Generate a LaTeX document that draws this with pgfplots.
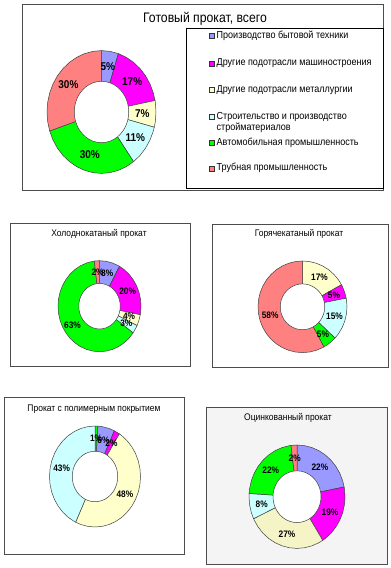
\documentclass[border=0pt]{standalone}
\usepackage{fontspec}
\setmainfont{Liberation Sans}
\usepackage{pgfplots}
\usepackage{pgfplotstable}
\pgfplotsset{compat=1.18}

\definecolor{cBlue}{HTML}{9999FF}
\definecolor{cMag}{HTML}{FF00FF}
\definecolor{cYel}{HTML}{FFFFCC}
\definecolor{cYelZ}{HTML}{F4F4C6}
\definecolor{cCyan}{HTML}{CCFFFF}
\definecolor{cGreen}{HTML}{00FF00}
\definecolor{cRed}{HTML}{FF8080}
\definecolor{cBack}{HTML}{F4F4F4}

\pgfplotsset{
  /pgfplots/table/donut/.style={row sep=\\,
    x expr={\thisrow{r}*cos(90-3.6*\thisrow{p})},
    y expr={\thisrow{r}*sin(90-3.6*\thisrow{p})}},
  sector/.style={draw=black!75, line width=0.5pt, line join=round},
  donutaxis/.style={hide axis, scale only axis, xmin=-1, xmax=1, ymin=-1, ymax=1,
    clip=false, anchor=center},
  lab/.style={draw=none, nodes near coords={\pgfplotspointmeta\%},
    point meta=explicit symbolic,
    every node near coord/.append style={anchor=center, inner sep=0pt, xscale=0.885, font=#1}},
}

% inner hole (50% of the outer radius)
\pgfplotstableread[row sep=\\]{p r\\
0 0.5\\2.5 0.5\\5 0.5\\7.5 0.5\\10 0.5\\12.5 0.5\\15 0.5\\17.5 0.5\\20 0.5\\22.5 0.5\\
25 0.5\\27.5 0.5\\30 0.5\\32.5 0.5\\35 0.5\\37.5 0.5\\40 0.5\\42.5 0.5\\45 0.5\\47.5 0.5\\
50 0.5\\52.5 0.5\\55 0.5\\57.5 0.5\\60 0.5\\62.5 0.5\\65 0.5\\67.5 0.5\\70 0.5\\72.5 0.5\\
75 0.5\\77.5 0.5\\80 0.5\\82.5 0.5\\85 0.5\\87.5 0.5\\90 0.5\\92.5 0.5\\95 0.5\\97.5 0.5\\100 0.5\\}\holetab

\newcommand{\ttl}[1]{\fontsize{#1}{#1}\selectfont}

\begin{document}
\begin{tikzpicture}
\useasboundingbox (0pt,0pt) rectangle (391pt,568pt);

% frames
\draw[black!70, line width=0.6pt] (22pt,378pt) rectangle (383pt,564pt);
\draw[black!70, line width=0.6pt] (10pt,202pt) rectangle (190pt,345pt);
\draw[black!70, line width=0.6pt] (212pt,201pt) rectangle (388pt,344pt);
\draw[black!70, line width=0.6pt] (4pt,14pt) rectangle (184pt,171pt);
\draw[black!70, line width=0.6pt, fill=cBack] (206pt,4pt) rectangle (387pt,161pt);

% titles
\node[xscale=0.885] at (205pt,548.7pt) {\ttl{13.8}Готовый прокат, всего};
\node[xscale=0.885] at (99pt,334pt) {\ttl{9.6}Холоднокатаный прокат};
\node[xscale=0.885] at (299pt,334pt) {\ttl{9.6}Горячекатаный прокат};
\node[xscale=0.885] at (94pt,159pt) {\ttl{9.6}Прокат с полимерным покрытием};
\node[xscale=0.885] at (288pt,150pt) {\ttl{9.6}Оцинкованный прокат};

% ---------------- Готовый прокат, всего
\begin{axis}[donutaxis, at={(101.5pt,456pt)}, width=109pt, height=122.8pt]
\addplot[sector, fill=cBlue] table[donut] {p r\\0 0\\0 1\\2.5 1\\5 1\\5 0\\};
\addplot[sector, fill=cMag] table[donut] {p r\\5 0\\5 1\\7.5 1\\10 1\\12.5 1\\15 1\\17.5 1\\20 1\\22 1\\22 0\\};
\addplot[sector, fill=cYel] table[donut] {p r\\22 0\\22 1\\22.5 1\\25 1\\27.5 1\\29 1\\29 0\\};
\addplot[sector, fill=cCyan] table[donut] {p r\\29 0\\29 1\\30 1\\32.5 1\\35 1\\37.5 1\\40 1\\40 0\\};
\addplot[sector, fill=cGreen] table[donut] {p r\\40 0\\40 1\\42.5 1\\45 1\\47.5 1\\50 1\\52.5 1\\55 1\\57.5 1\\60 1\\62.5 1\\65 1\\67.5 1\\70 1\\70 0\\};
\addplot[sector, fill=cRed] table[donut] {p r\\70 0\\70 1\\72.5 1\\75 1\\77.5 1\\80 1\\82.5 1\\85 1\\87.5 1\\90 1\\92.5 1\\95 1\\97.5 1\\100 1\\100 0\\};
\addplot[sector, fill=white] table[donut] {\holetab};
\addplot[lab={\bfseries\ttl{11.3}}] table[donut, meta=v] {p r v\\2.5 0.75 5\\13.5 0.75 17\\25.5 0.75 7\\34.5 0.75 11\\54.8 0.72 30\\85 0.75 30\\};
\end{axis}

% ---------------- Холоднокатаный прокат
\begin{axis}[donutaxis, at={(99.5pt,261.8pt)}, width=83pt, height=91pt]
\addplot[sector, fill=cBlue] table[donut] {p r\\0 0\\0 1\\2.5 1\\5 1\\7.5 1\\8 1\\8 0\\};
\addplot[sector, fill=cMag] table[donut] {p r\\8 0\\8 1\\10 1\\12.5 1\\15 1\\17.5 1\\20 1\\22.5 1\\25 1\\27.5 1\\28 1\\28 0\\};
\addplot[sector, fill=cYel] table[donut] {p r\\28 0\\28 1\\30 1\\32 1\\32 0\\};
\addplot[sector, fill=cCyan] table[donut] {p r\\32 0\\32 1\\32.5 1\\35 1\\35 0\\};
\addplot[sector, fill=cGreen] table[donut] {p r\\35 0\\35 1\\37.5 1\\40 1\\42.5 1\\45 1\\47.5 1\\50 1\\52.5 1\\55 1\\57.5 1\\60 1\\62.5 1\\65 1\\67.5 1\\70 1\\72.5 1\\75 1\\77.5 1\\80 1\\82.5 1\\85 1\\87.5 1\\90 1\\92.5 1\\95 1\\97.5 1\\98 1\\98 0\\};
\addplot[sector, fill=cRed] table[donut] {p r\\98 0\\98 1\\100 1\\100 0\\};
\addplot[sector, fill=white] table[donut] {\holetab};
\addplot[lab={\bfseries\ttl{9.4}}] table[donut, meta=v] {p r v\\4 0.75 8\\18 0.75 20\\30 0.75 4\\33.5 0.75 3\\66 0.77 63\\99 0.75 2\\};
\end{axis}

% ---------------- Горячекатаный прокат
\begin{axis}[donutaxis, at={(302.5pt,261.2pt)}, width=89pt, height=91.6pt]
\addplot[sector, fill=cYel] table[donut] {p r\\0 0\\0 1\\2.5 1\\5 1\\7.5 1\\10 1\\12.5 1\\15 1\\17 1\\17 0\\};
\addplot[sector, fill=cMag] table[donut] {p r\\17 0\\17 1\\17.5 1\\20 1\\22 1\\22 0\\};
\addplot[sector, fill=cCyan] table[donut] {p r\\22 0\\22 1\\22.5 1\\25 1\\27.5 1\\30 1\\32.5 1\\35 1\\37 1\\37 0\\};
\addplot[sector, fill=cGreen] table[donut] {p r\\37 0\\37 1\\37.5 1\\40 1\\42 1\\42 0\\};
\addplot[sector, fill=cRed] table[donut] {p r\\42 0\\42 1\\42.5 1\\45 1\\47.5 1\\50 1\\52.5 1\\55 1\\57.5 1\\60 1\\62.5 1\\65 1\\67.5 1\\70 1\\72.5 1\\75 1\\77.5 1\\80 1\\82.5 1\\85 1\\87.5 1\\90 1\\92.5 1\\95 1\\97.5 1\\100 1\\100 0\\};
\addplot[sector, fill=white] table[donut] {\holetab};
\addplot[lab={\bfseries\ttl{9.4}}] table[donut, meta=v] {p r v\\8.5 0.75 17\\19.5 0.75 5\\29.5 0.75 15\\39.5 0.75 5\\71 0.75 58\\};
\end{axis}

% ---------------- Прокат с полимерным покрытием
\begin{axis}[donutaxis, at={(95pt,91.5pt)}, width=91pt, height=101pt]
\addplot[sector, fill=cGreen] table[donut] {p r\\0 0\\0 1\\1 1\\1 0\\};
\addplot[sector, fill=cBlue] table[donut] {p r\\1 0\\1 1\\2.5 1\\5 1\\7 1\\7 0\\};
\addplot[sector, fill=cMag] table[donut] {p r\\7 0\\7 1\\9 1\\9 0\\};
\addplot[sector, fill=cYel] table[donut] {p r\\9 0\\9 1\\10 1\\12.5 1\\15 1\\17.5 1\\20 1\\22.5 1\\25 1\\27.5 1\\30 1\\32.5 1\\35 1\\37.5 1\\40 1\\42.5 1\\45 1\\47.5 1\\50 1\\52.5 1\\55 1\\57 1\\57 0\\};
\addplot[sector, fill=cCyan] table[donut] {p r\\57 0\\57 1\\57.5 1\\60 1\\62.5 1\\65 1\\67.5 1\\70 1\\72.5 1\\75 1\\77.5 1\\80 1\\82.5 1\\85 1\\87.5 1\\90 1\\92.5 1\\95 1\\97.5 1\\100 1\\100 0\\};
\addplot[sector, fill=white] table[donut] {\holetab};
\addplot[lab={\bfseries\ttl{9.4}}] table[donut, meta=v] {p r v\\4 0.75 6\\0.5 0.75 1\\8 0.75 2\\33 0.75 48\\78.5 0.75 43\\};
\end{axis}

% ---------------- Оцинкованный прокат
\begin{axis}[donutaxis, at={(297pt,71.3pt)}, width=96pt, height=103.4pt]
\addplot[sector, fill=cBlue] table[donut] {p r\\0 0\\0 1\\2.5 1\\5 1\\7.5 1\\10 1\\12.5 1\\15 1\\17.5 1\\20 1\\22 1\\22 0\\};
\addplot[sector, fill=cMag] table[donut] {p r\\22 0\\22 1\\22.5 1\\25 1\\27.5 1\\30 1\\32.5 1\\35 1\\37.5 1\\40 1\\41 1\\41 0\\};
\addplot[sector, fill=cYelZ] table[donut] {p r\\41 0\\41 1\\42.5 1\\45 1\\47.5 1\\50 1\\52.5 1\\55 1\\57.5 1\\60 1\\62.5 1\\65 1\\67.5 1\\68 1\\68 0\\};
\addplot[sector, fill=cCyan] table[donut] {p r\\68 0\\68 1\\70 1\\72.5 1\\75 1\\76 1\\76 0\\};
\addplot[sector, fill=cGreen] table[donut] {p r\\76 0\\76 1\\77.5 1\\80 1\\82.5 1\\85 1\\87.5 1\\90 1\\92.5 1\\95 1\\97.5 1\\98 1\\98 0\\};
\addplot[sector, fill=cRed] table[donut] {p r\\98 0\\98 1\\100 1\\100 0\\};
\addplot[sector, fill=white] table[donut] {\holetab};
\addplot[lab={\bfseries\ttl{9.4}}] table[donut, meta=v] {p r v\\11 0.75 22\\31.5 0.75 19\\54.5 0.75 27\\72 0.75 8\\87 0.75 22\\99 0.75 2\\};
\end{axis}

% legend of the top chart
\draw[black, line width=0.8pt] (186pt,380pt) rectangle (383pt,540pt);
\begin{scope}[every node/.style={anchor=west, inner sep=0pt, xscale=0.885, font=\ttl{10.2}}]
\draw[black!80, line width=0.4pt, fill=cBlue] (209pt,530.2pt) rectangle (214pt,535.2pt);
\node at (216.5pt,532.7pt) {Производство бытовой техники};
\draw[black!80, line width=0.4pt, fill=cMag] (209pt,502.2pt) rectangle (214pt,507.2pt);
\node at (216.5pt,504.7pt) {Другие подотрасли машиностроения};
\draw[black!80, line width=0.4pt, fill=cYel] (209pt,475.5pt) rectangle (214pt,480.5pt);
\node at (216.5pt,478pt) {Другие подотрасли металлургии};
\draw[black!80, line width=0.4pt, fill=cCyan] (209pt,448.8pt) rectangle (214pt,453.8pt);
\node at (216.5pt,451.3pt) {Строительство и производство};
\node at (216.5pt,440.7pt) {стройматериалов};
\draw[black!80, line width=0.4pt, fill=cGreen] (209pt,422.8pt) rectangle (214pt,427.8pt);
\node at (216.5pt,425.3pt) {Автомобильная промышленность};
\draw[black!80, line width=0.4pt, fill=cRed] (209pt,397.2pt) rectangle (214pt,402.2pt);
\node at (216.5pt,399.7pt) {Трубная промышленность};
\end{scope}
\end{tikzpicture}
\end{document}
